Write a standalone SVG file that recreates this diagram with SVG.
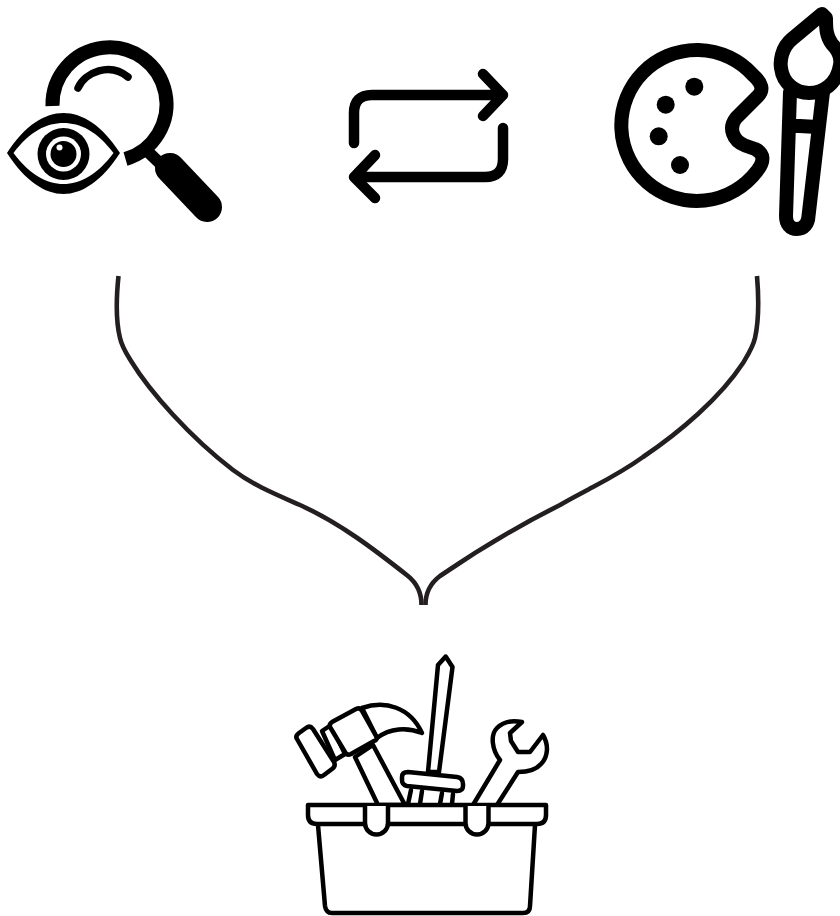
<svg xmlns="http://www.w3.org/2000/svg" width="840" height="916" viewBox="0 0 840 916">
<style>
.k{fill:none;stroke:#000;stroke-linecap:round;stroke-linejoin:round}
.w{fill:#fff;stroke:#000;stroke-linecap:round;stroke-linejoin:round}
.t{stroke-width:4.5}
.c{fill:none;stroke:#231f20;stroke-width:4.6;stroke-linecap:butt}
.f{fill:#000}
</style>
<rect width="840" height="916" fill="#fff"/>
<g id="connectors">
<path class="c" d="M118.500 276C116 300 116 322 120 338C122 347 126 353 131 361C150 392 190 437 233 470C253 485 275 494 300 505C340 523 375 550 408 576C419 585 421.500 595 421.500 605"/>
<path class="c" d="M757 276C759 300 759 320 755 338C753 347 749 353 743 363C720 398 680 432 643 457C625 470 610 478 593 487C580 494 570 499 560 505C520 525 475 552 440 576C428 585 425.500 595 425.500 605"/>
</g>
<g id="inspect">
<path d="M52.500 106A57 57 0 1 1 125.500 159" fill="none" stroke="#000" stroke-width="14"/>
<path class="k" stroke-width="7.500" d="M78 88C85 72 110 62 128 77"/>
<path class="k" stroke-width="12" style="stroke-linecap:butt" d="M143 147L170 173"/>
<path class="k" stroke-width="30" d="M170 168L207 207"/>
<path class="f" fill-rule="evenodd" d="M7 153C25 125 45 113 63.500 113C82 113 102 125 120 153C102 181 82 194 63.500 194C45 194 25 181 7 153ZM13.500 153C30 131 47 123 63.500 123C80 123 97 131 113.500 153C97 175 80 184 63.500 184C47 184 30 175 13.500 153Z"/>
<circle class="f" cx="63.500" cy="154" r="26"/>
<circle cx="63.500" cy="154" r="17.500" fill="#fff"/>
<circle class="f" cx="63.500" cy="154" r="13"/>
<circle cx="59.500" cy="147.500" r="3" fill="#fff"/>
</g>
<g id="cycle">
<path class="k" stroke-width="10.500" d="M354 143V113Q354 95 372 95H503M483 74L503 95L483 116"/>
<path class="k" stroke-width="10.500" d="M503 128V159Q503 177 485 177H354M375 155L354 177L375 198"/>
</g>
<g id="palette">
<path class="k" stroke-width="14" d="M753 75A75.500 75.500 0 1 0 757 171C765 161 764 153 755 149L745 145.500C733 141 728 128 736 118L758 96C764 90 762 83 753 75Z"/>
<circle class="f" cx="694.300" cy="86.700" r="9"/>
<circle class="f" cx="665.700" cy="104.700" r="9"/>
<circle class="f" cx="658.700" cy="136.300" r="9"/>
<circle class="f" cx="680" cy="165" r="9"/>
</g>
<g id="brush">
<path class="k" stroke-width="14" d="M822 14L792 39C781 48 780 62 781 68C783 84 796 93 809 93C823 93 837 84 840 65C842 55 836 48 832 44C826 36 826 28 826 18Z"/>
<path class="k" stroke-width="14" d="M790 92L786 216C786 224 790 229 797 229C804 229 808 224 808.500 216L823 92M791 125.500L817 127"/>
</g>
<g id="toolbox">
<path class="w t" d="M355 757L378 805H405L373 745Z"/>
<path class="w t" d="M362 708C385 700 410 707 422 733C407 727 390 728 377 738Z"/>
<path class="w t" d="M322 731L331 725L345 754L335 760Z"/>
<path class="w t" d="M332 722L356 709Q360 707 362 711L376 736Q378 740 374 741L351 754Q347 756 345 752L330 727Q329 724 332 722Z"/>
<path class="w t" d="M297 739Q295 736 299 733L306 728Q310 725 313 729L334 762Q336 766 332 769L324 775Q320 778 317 774Z"/>
<path class="w t" d="M445.700 656.500L438 665L428 772H439L452.500 667L445.700 656.500Z"/>
<path class="k t" d="M411 790L408 804M422 791L420 804M442 793L440 804M453 794L452 804"/>
<path class="w t" d="M408 772L457 777Q463 778 463 784V786Q463 791 457 791L407 786Q402 785 402 780V777Q402 772 408 772Z"/>
<path class="w t" d="M473 805L500 760C492 750 490 735 497 728C503 722 512 720 522 722L510 733L511 741L518 752L530 752L543 735C549 745 548 757 541 764C535 771 526 772 518 772L497 805"/>
<path class="w t" d="M318 825L325 906Q326 913 332 913H523Q530 913 530 906L535 825"/>
<path class="w t" d="M308 805H546V815Q546 824 537 824H317Q308 824 308 815Z"/>
<path class="w t" d="M365 806V823A11.500 11.500 0 0 0 388 823V806"/>
<path class="w t" d="M465.500 806V823A11.500 11.500 0 0 0 488.500 823V806"/>
</g>
</svg>
